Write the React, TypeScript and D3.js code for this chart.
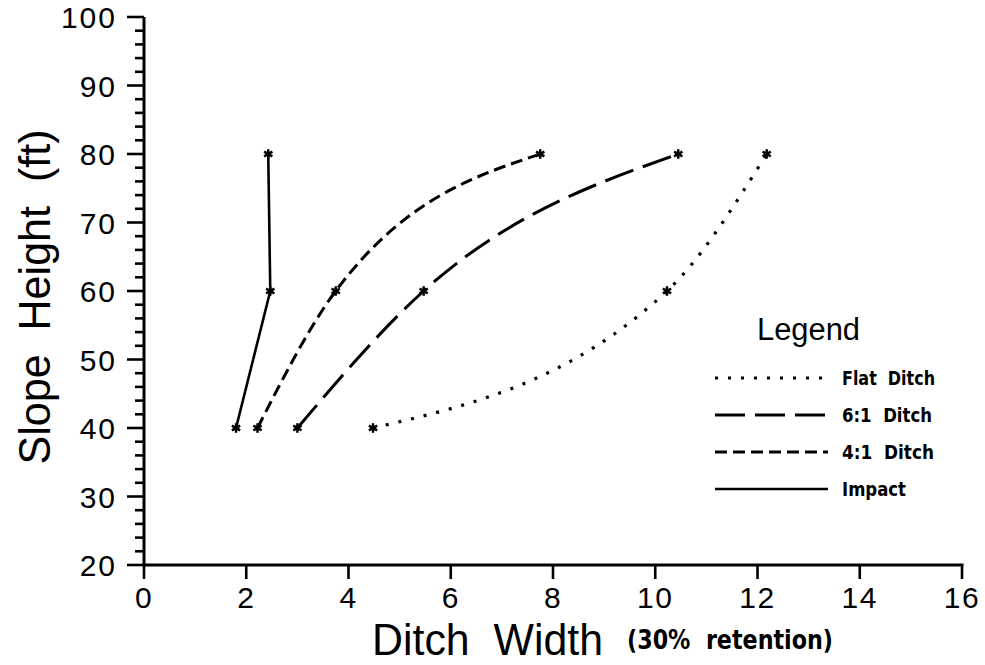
import React from "react";
import * as d3 from "d3";

const heights = [40, 60, 80];
const impactWidths = [1.8, 2.47, 2.43];
const ditch41Widths = [2.22, 3.75, 7.75];
const ditch61Widths = [3.0, 5.47, 10.45];
const flatWidths = [4.48, 10.23, 12.18];

const seriesNames = ["Flat  Ditch", "6:1  Ditch", "4:1  Ditch", "Impact"];
const xTicks = [0, 2, 4, 6, 8, 10, 12, 14, 16];
const yTicks = [20, 30, 40, 50, 60, 70, 80, 90, 100];
const yMinorTicks = d3.range(20, 101, 2);

const W = 985;
const H = 665;

export default function App() {
  const x = d3.scaleLinear().domain([0, 16]).range([144, 962]);
  const y = d3.scaleLinear().domain([20, 100]).range([565, 17]);

  const series = [
    { name: seriesNames[0], widths: flatWidths, dash: "3 10", curve: d3.curveMonotoneX, sw: 3.2, tl: 93 },
    { name: seriesNames[1], widths: ditch61Widths, dash: "30 10", curve: d3.curveMonotoneX, sw: 3, tl: 90 },
    { name: seriesNames[2], widths: ditch41Widths, dash: "12 6", curve: d3.curveMonotoneX, sw: 3, tl: 92 },
    { name: seriesNames[3], widths: impactWidths, dash: "none", curve: d3.curveLinear, sw: 2.6, tl: 64 },
  ];

  const legendY = [378, 415, 452, 489];

  const star = (cx: number, cy: number, key: string) => {
    const r = 4.8;
    const spokes = [0, 60, 120].map((a) => {
      const rad = (a * Math.PI) / 180 + Math.PI / 2;
      return (
        <line
          key={a}
          x1={cx - r * Math.cos(rad)}
          y1={cy - r * Math.sin(rad)}
          x2={cx + r * Math.cos(rad)}
          y2={cy + r * Math.sin(rad)}
          stroke="#000"
          strokeWidth={2.4}
        />
      );
    });
    return (
      <g key={key}>
        {spokes}
        <circle cx={cx} cy={cy} r={2.6} fill="#000" />
      </g>
    );
  };

  return (
    <svg
      width={W}
      height={H}
      style={{ position: "absolute", left: 0, top: 0, background: "#fff" }}
    >
      <rect x={0} y={0} width={W} height={H} fill="#fff" />
      {/* axes */}
      <line x1={x(0)} y1={y(20)} x2={x(0)} y2={y(100)} stroke="#000" strokeWidth={3} />
      <line x1={x(0) - 1.5} y1={y(20)} x2={x(16) + 1.5} y2={y(20)} stroke="#000" strokeWidth={3} />
      {yMinorTicks.map((v) => (
        <line
          key={"ym" + v}
          x1={x(0)}
          x2={x(0) - (v % 10 === 0 ? 17 : 9)}
          y1={y(v)}
          y2={y(v)}
          stroke="#000"
          strokeWidth={2.6}
        />
      ))}
      {yTicks.map((v) => (
        <text
          key={"yl" + v}
          x={117}
          y={y(v) + 11}
          textAnchor="end"
          fontFamily="'Liberation Sans', Arial, sans-serif"
          fontSize={30}
          letterSpacing={2}
          fill="#000"
        >
          {v}
        </text>
      ))}
      {xTicks.map((v) => (
        <g key={"xt" + v}>
          <line x1={x(v)} x2={x(v)} y1={y(20)} y2={y(20) + 14} stroke="#000" strokeWidth={2.6} />
          <text
            x={x(v)}
            y={608}
            textAnchor="middle"
            fontFamily="'Liberation Sans', Arial, sans-serif"
            fontSize={30}
            letterSpacing={1.5}
            fill="#000"
          >
            {v}
          </text>
        </g>
      ))}
      {/* axis titles */}
      <text
        x={372}
        y={655}
        fontFamily="'Liberation Sans', Arial, sans-serif"
        fontSize={44}
        textLength={231}
        lengthAdjust="spacingAndGlyphs"
        fill="#000"
        style={{ whiteSpace: "pre" }}
      >
        {"Ditch  Width"}
      </text>
      <text
        x={627}
        y={649}
        fontFamily="'DejaVu Sans', sans-serif"
        fontWeight="bold"
        fontSize={26}
        textLength={206}
        lengthAdjust="spacingAndGlyphs"
        fill="#000"
        style={{ whiteSpace: "pre" }}
      >
        {"(30%  retention)"}
      </text>
      <text
        transform={`translate(50,297) rotate(-90)`}
        textAnchor="middle"
        fontFamily="'Liberation Sans', Arial, sans-serif"
        fontSize={44}
        textLength={335}
        lengthAdjust="spacingAndGlyphs"
        fill="#000"
        style={{ whiteSpace: "pre" }}
      >
        {"Slope  Height  (ft)"}
      </text>
      {/* series */}
      {series.map((s, i) => {
        const pts: [number, number][] = s.widths.map((w, j) => [x(w), y(heights[j])]);
        const path = d3.line().curve(s.curve)(pts) || "";
        return (
          <g key={"s" + i}>
            <path
              d={path}
              fill="none"
              stroke="#000"
              strokeWidth={s.sw}
              strokeDasharray={s.dash}
            />
            {pts.map((p, j) => star(p[0], p[1], "m" + i + "-" + j))}
          </g>
        );
      })}
      {/* legend */}
      <text
        x={757}
        y={340}
        fontFamily="'Liberation Sans', Arial, sans-serif"
        fontSize={31}
        textLength={103}
        lengthAdjust="spacingAndGlyphs"
        fill="#000"
      >
        Legend
      </text>
      {series.map((s, i) => (
        <g key={"lg" + i}>
          <line
            x1={715}
            x2={828}
            y1={legendY[i]}
            y2={legendY[i]}
            stroke="#000"
            strokeWidth={s.sw}
            strokeDasharray={s.dash}
          />
          <text
            x={842}
            y={legendY[i] + 7}
            fontFamily="'DejaVu Sans', sans-serif"
            fontWeight="bold"
            fontSize={19}
            textLength={s.tl}
            lengthAdjust="spacingAndGlyphs"
            fill="#000"
            style={{ whiteSpace: "pre" }}
          >
            {s.name}
          </text>
        </g>
      ))}
    </svg>
  );
}
